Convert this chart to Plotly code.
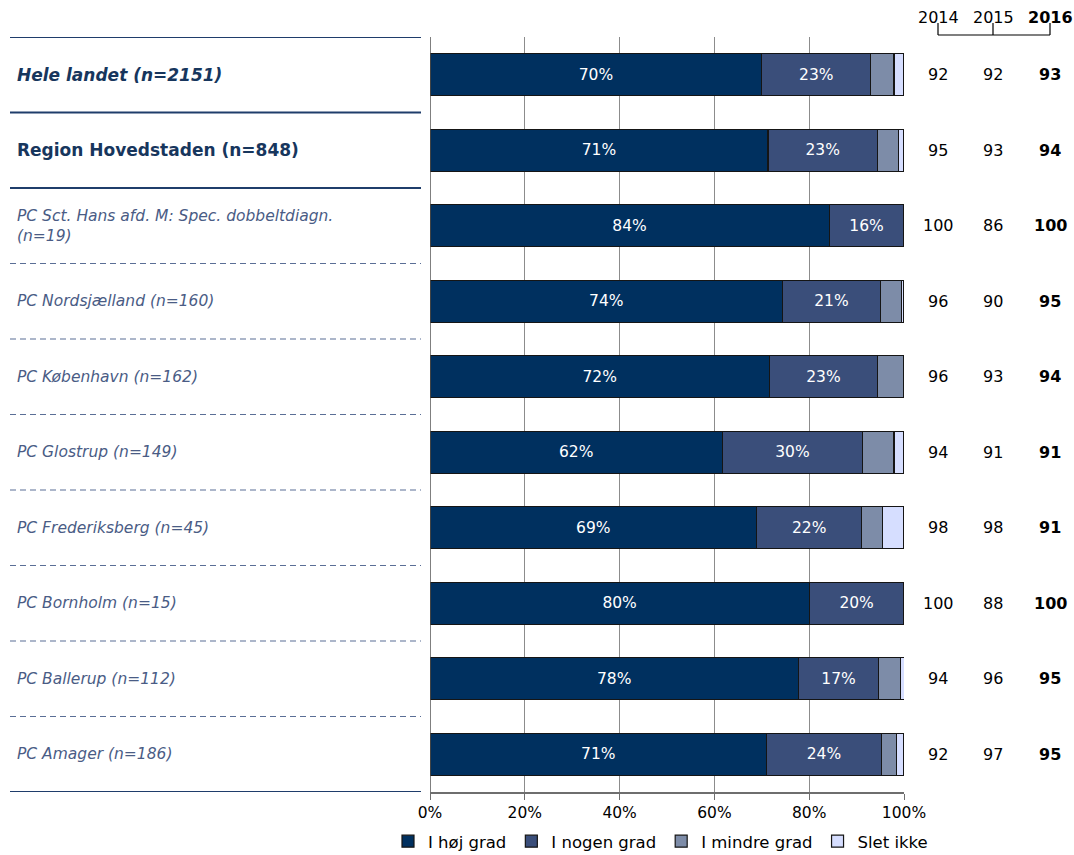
import plotly.graph_objects as go

categories = [
    "Hele landet (n=2151)",
    "Region Hovedstaden (n=848)",
    "PC Sct. Hans afd. M: Spec. dobbeltdiagn.<br>(n=19)",
    "PC Nordsjælland (n=160)",
    "PC København (n=162)",
    "PC Glostrup (n=149)",
    "PC Frederiksberg (n=45)",
    "PC Bornholm (n=15)",
    "PC Ballerup (n=112)",
    "PC Amager (n=186)",
]
series_names = ["I høj grad", "I nogen grad", "I mindre grad", "Slet ikke"]
hoj = [70.0, 71.3, 84.2, 74.4, 71.6, 61.7, 68.9, 80.0, 77.7, 71.0]
nogen = [23.0, 23.1, 15.8, 20.6, 22.8, 29.5, 22.2, 20.0, 17.0, 24.2]
mindre = [4.9, 4.5, 0.0, 4.4, 5.6, 6.7, 4.4, 0.0, 4.5, 3.2]
slet = [2.1, 1.1, 0.0, 0.6, 0.0, 2.0, 4.4, 0.0, 0.9, 1.6]
y2014 = [92, 95, 100, 96, 96, 94, 98, 100, 94, 92]
y2015 = [92, 93, 86, 90, 93, 91, 98, 88, 96, 97]
y2016 = [93, 94, 100, 95, 94, 91, 91, 100, 95, 95]
year_labels = ["2014", "2015", "2016"]
x_ticks = [0, 20, 40, 60, 80, 100]

colors = ["#00305F", "#3A4E7A", "#7D8CA8", "#D6DEFF"]
FONT = "DejaVu Sans"

W, H = 1074, 855
L, R, T, B = 430, 170, 37, 63
PW = W - L - R
PH = H - T - B

def px_x(p):
    return (p - L) / PW

def px_y(p):
    return (H - B - p) / PH

fig = go.Figure()
rows = list(range(len(categories)))
for name, vals, col in zip(series_names, [hoj, nogen, mindre, slet], colors):
    texts = [f"{round(v)}%" if v >= 10 else "" for v in vals]
    fig.add_trace(go.Bar(
        name=name, y=rows, x=vals, orientation="h",
        marker=dict(color=col, line=dict(color="#151515", width=1.2)),
        width=0.56, text=texts, textposition="inside", insidetextanchor="middle",
        textfont=dict(color="white", size=15.5, family=FONT),
        textangle=0, cliponaxis=False,
    ))

fig.update_layout(
    barmode="stack", width=W, height=H,
    margin=dict(l=L, r=R, t=T, b=B, autoexpand=False),
    plot_bgcolor="white", paper_bgcolor="white",
    font=dict(family=FONT, size=15, color="black"),
    showlegend=True,
    legend=dict(orientation="h", x=px_x(388), xanchor="left", y=px_y(824), yanchor="top",
                font=dict(size=16.5, family=FONT), traceorder="normal",
                itemwidth=30, tracegroupgap=0),
    uniformtext=dict(mode=None),
)
fig.update_xaxes(range=[0, 100], tickvals=x_ticks, ticktext=[f"{v}%" for v in x_ticks],
                 showgrid=True, gridcolor="#8c8c8c", gridwidth=1,
                 showline=True, linecolor="#6e6e6e", linewidth=1.5,
                 ticks="outside", ticklen=6, tickcolor="#6e6e6e",
                 tickfont=dict(size=15.5, family=FONT), zeroline=False)
fig.update_yaxes(range=[len(categories) - 0.5, -0.5], showticklabels=False,
                 showgrid=False, zeroline=False, showline=False)

# left axis line
fig.add_shape(type="line", xref="x", yref="paper", x0=0, x1=0, y0=0, y1=1,
              line=dict(color="#555555", width=1.5))

# separators on left
x0s, x1s = px_x(10), px_x(421)
for i in range(len(categories) + 1):
    yb = i - 0.5
    solid = i in (0, 1, 2, len(categories))
    fig.add_shape(type="line", xref="paper", yref="y", x0=x0s, x1=x1s, y0=yb, y1=yb,
                  line=dict(color="#1F3D6B" if solid else "#5A6E96", width=1.8 if solid else 1.2,
                            dash="solid" if solid else "6px,4px"))

# left labels
for i, cat in enumerate(categories):
    if i == 0:
        txt = f"<b><i>{cat}</i></b>"
        size, col = 17, "#17365D"
    elif i == 1:
        txt = f"<b>{cat}</b>"
        size, col = 17, "#17365D"
    else:
        txt = f"<i>{cat}</i>"
        size, col = 15.5, "#4A5C85"
    fig.add_annotation(xref="paper", yref="y", x=px_x(15), y=i, text=txt, showarrow=False,
                       xanchor="left", yanchor="middle", align="left",
                       font=dict(size=size, color=col, family=FONT))

# right numbers
xcols = [px_x(938), px_x(993), px_x(1050)]
for i in rows:
    for j, vals in enumerate([y2014, y2015, y2016]):
        t = str(vals[i])
        if j == 2:
            t = f"<b>{t}</b>"
        fig.add_annotation(xref="paper", yref="y", x=xcols[j], y=i, text=t, showarrow=False,
                           xanchor="center", yanchor="middle",
                           font=dict(size=16, color="black", family=FONT))

# header
for j, lab in enumerate(year_labels):
    t = f"<b>{lab}</b>" if j == 2 else lab
    fig.add_annotation(xref="paper", yref="paper", x=xcols[j], y=px_y(17), text=t, showarrow=False,
                       xanchor="center", yanchor="middle",
                       font=dict(size=16, color="black", family=FONT))
fig.add_shape(type="line", xref="paper", yref="paper", x0=xcols[0], x1=xcols[2],
              y0=px_y(35), y1=px_y(35), line=dict(color="black", width=1.2))
for xc in xcols:
    fig.add_shape(type="line", xref="paper", yref="paper", x0=xc, x1=xc,
                  y0=px_y(35), y1=px_y(23), line=dict(color="black", width=1.2))

fig.write_html("out.html", config={"displayModeBar": False},
               post_script="document.body.style.margin='0px';")
